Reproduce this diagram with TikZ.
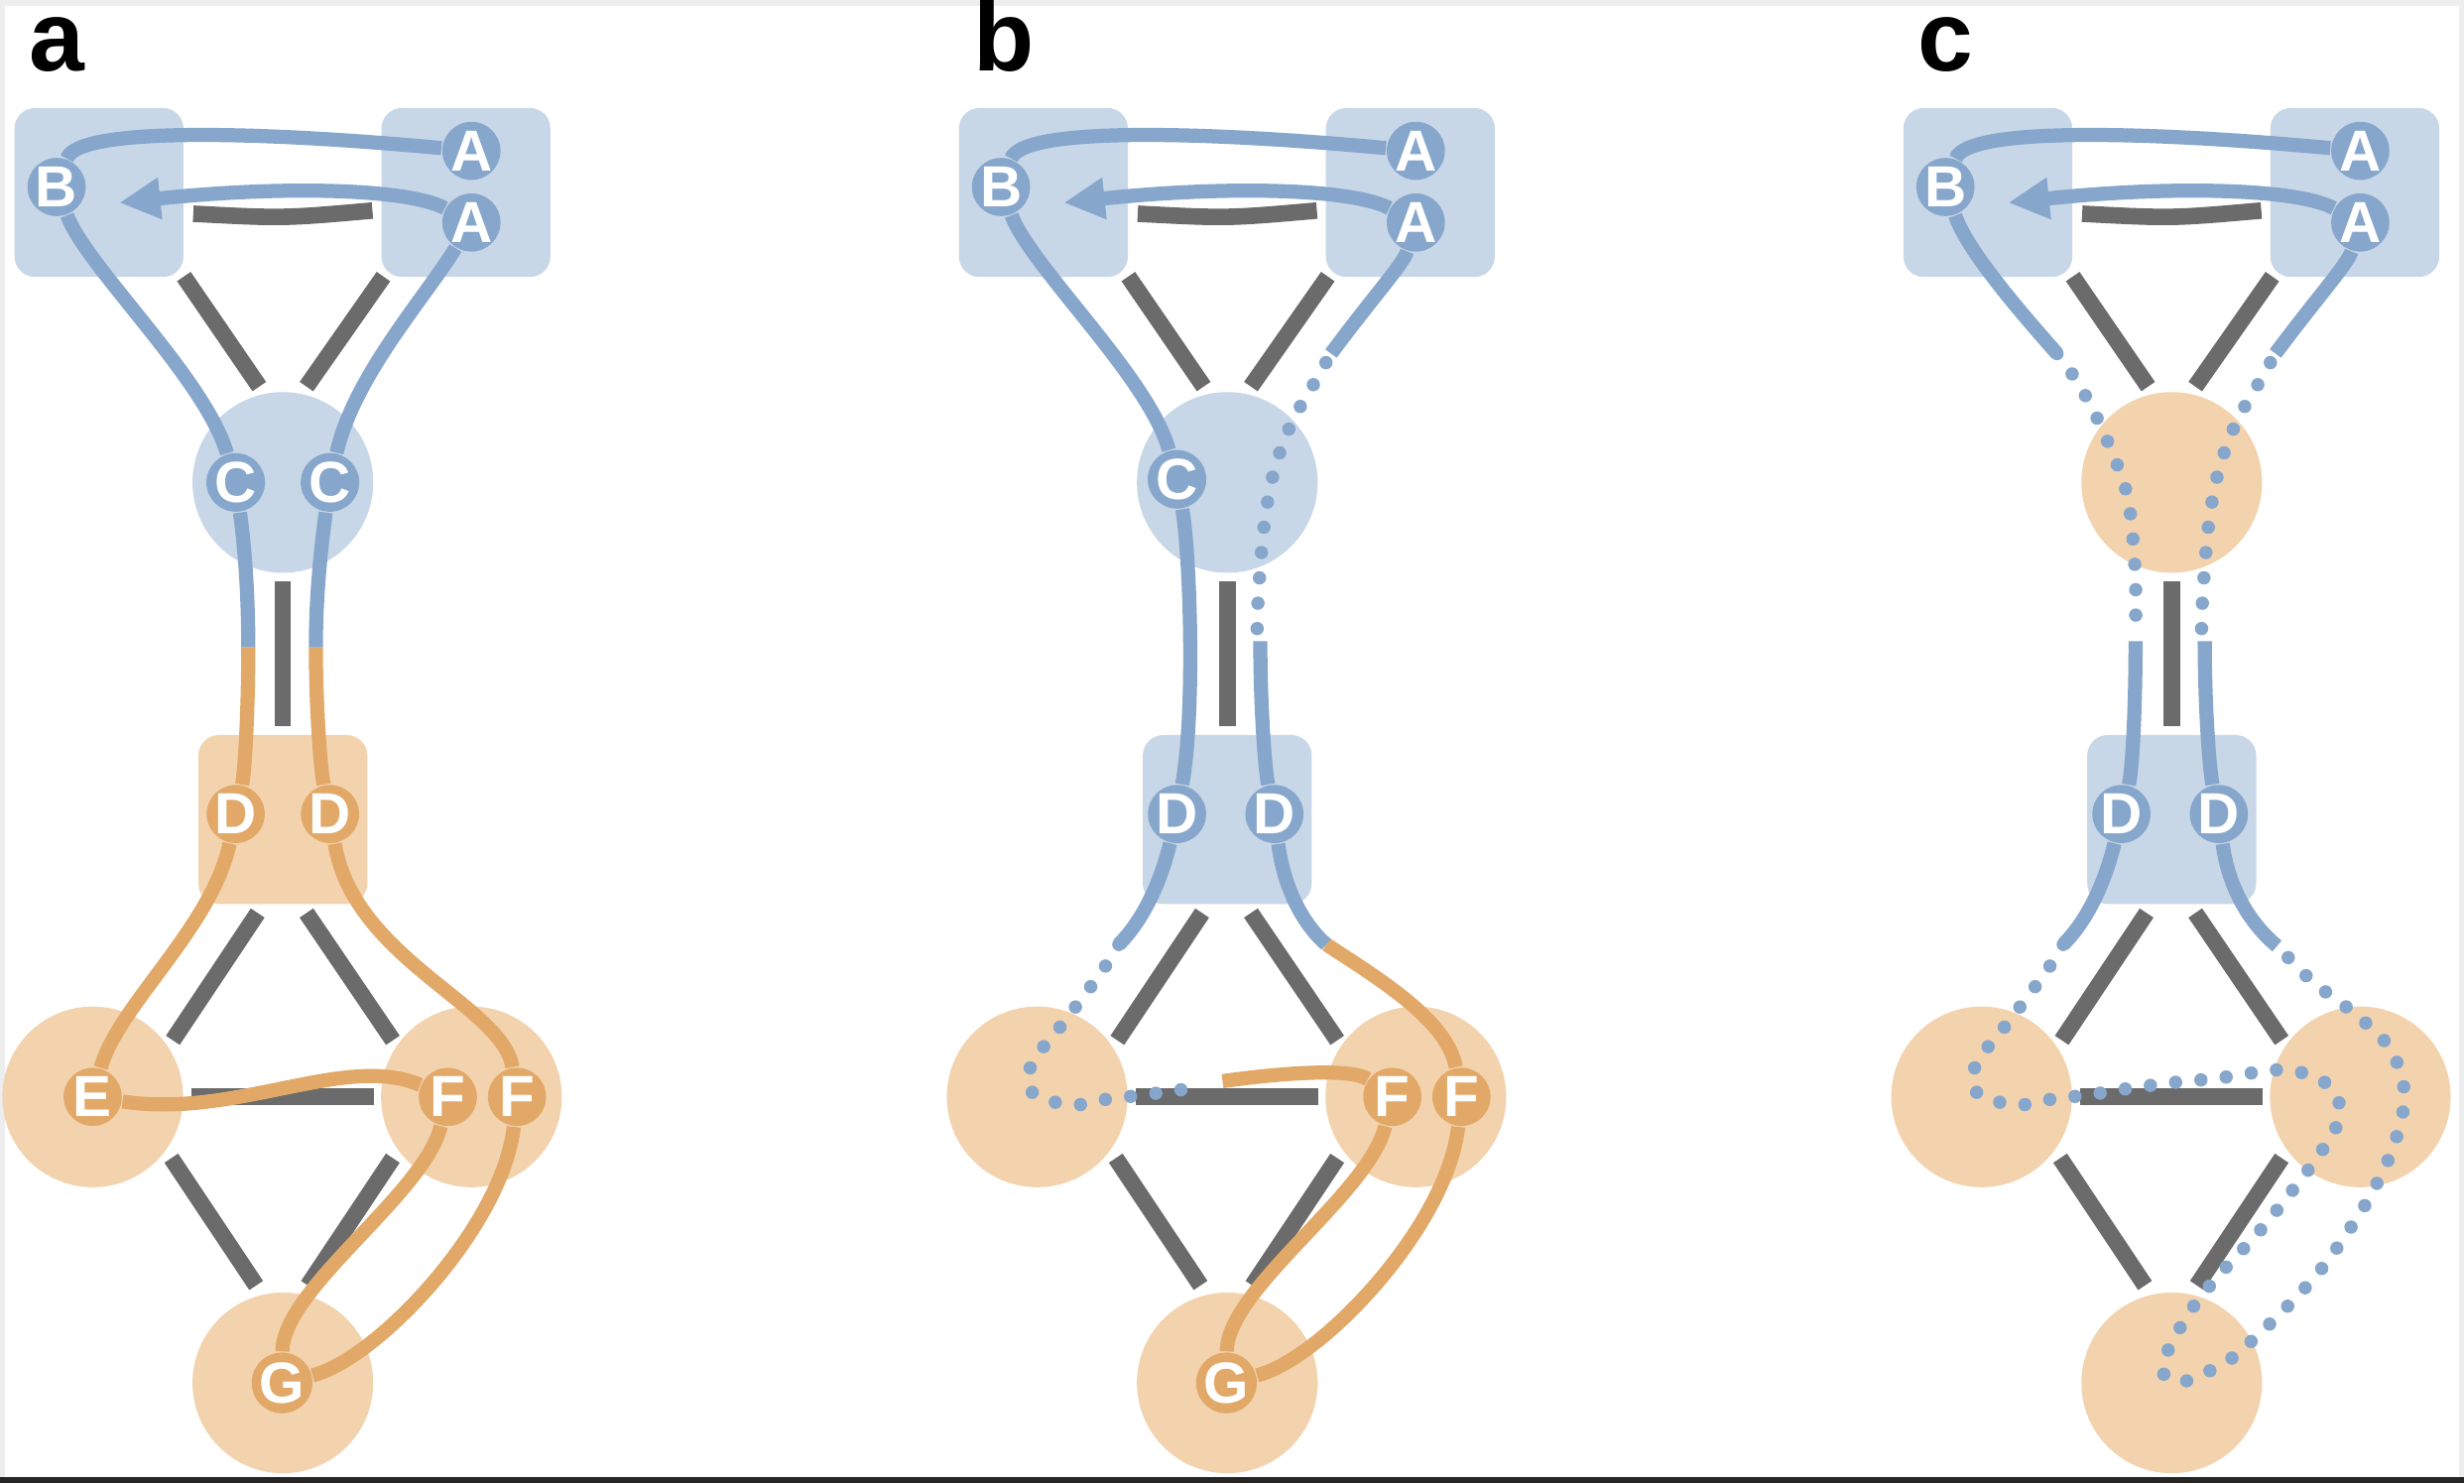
\documentclass[tikz,border=0pt]{standalone}
\usepackage{fontspec}
\setmainfont{Liberation Sans}
\usetikzlibrary{arrows.meta}
\definecolor{lb}{HTML}{86A6CB}
\definecolor{lo}{HTML}{E2A868}
\definecolor{rbl}{HTML}{C8D7E8}
\definecolor{rol}{HTML}{F3D3AE}
\definecolor{gr}{HTML}{6B6B6B}
\pgfdeclarelayer{back}\pgfdeclarelayer{regions}\pgfdeclarelayer{paths}
\pgfsetlayers{back,regions,paths,main}
\newcommand\grbars{%
 \draw[bar] (123,136) .. controls (180,139) .. (237,134);
 \draw[bar] (117,176) -- (165,246);
 \draw[bar] (244,176) -- (195,246);
 \draw[bar] (180,370) -- (180,462);
 \draw[bar] (164,581) -- (110,662);
 \draw[bar] (195,581) -- (250,662);
 \draw[bar] (122,698) -- (238,698);
 \draw[bar] (109,737) -- (163,818);
 \draw[bar] (250,737) -- (196,818);}
\begin{document}
\begin{tikzpicture}[x=0.1mm,y=-0.1mm,
 nd/.style={circle,inner sep=0pt,minimum size=3.7mm,font=\fontsize{10.5}{10.5}\selectfont\bfseries,text=white},
 nb/.style={nd,fill=lb}, no/.style={nd,fill=lo},
 rect/.style={rectangle,rounded corners=1.3mm,minimum size=10.75mm,inner sep=0pt},
 circ/.style={circle,minimum size=11.5mm,inner sep=0pt},
 bl/.style={draw=lb,line width=0.9mm},
 ol/.style={draw=lo,line width=0.9mm},
 dl/.style={draw=lb,line width=0.85mm,line cap=round,dash pattern=on 0pt off 4.6pt},
 bar/.style={draw=gr,line width=1.05mm},
 lab/.style={anchor=base west,font=\fontsize{18}{18}\selectfont\bfseries},
 arr/.style={-{Triangle[length=2.6mm,width=2.5mm]}}]
\useasboundingbox (0,0) rectangle (1568,944);
\begin{pgfonlayer}{back}
\fill[black!7] (0,0) rectangle (1568,944);
\fill[white] (3,4) rectangle (1565,940);
\fill[black!85] (0,940) rectangle (1568,944);
\end{pgfonlayer}
% ================= panel a
\node[lab] (la) at (6,45) {a};
\begin{pgfonlayer}{regions}
\node[rect,fill=rbl] (aRB) at (63,122.5) {};
\node[rect,fill=rbl] (aRA) at (296.5,122.5) {};
\node[circ,fill=rbl] (aRC) at (180,307) {};
\node[rect,fill=rol] (aRD) at (180,521.5) {};
\node[circ,fill=rol] (aRE) at (59,698) {};
\node[circ,fill=rol] (aRF) at (300,698) {};
\node[circ,fill=rol] (aRG) at (180,880) {};
\grbars
\end{pgfonlayer}
\node[nb] (aB) at (36,119) {B};
\node[nb] (aA1) at (300,96) {A};
\node[nb] (aA2) at (300,141.6) {A};
\node[nb] (aC1) at (150,307) {C};
\node[nb] (aC2) at (210,307) {C};
\node[no] (aD1) at (150,518) {D};
\node[no] (aD2) at (210,518) {D};
\node[no] (aE) at (59,698) {E};
\node[no] (aF1) at (285,698) {F};
\node[no] (aF2) at (329,698) {F};
\node[no] (aG) at (179.5,880) {G};
\coordinate (aT) at (76,129);
\coordinate (aS1) at (158,412);
\coordinate (aS2) at (201,412);
\begin{pgfonlayer}{paths}
\draw[bl] (aA1) .. controls (170,84) and (50,80) .. (aB);
\draw[bl] (aB) .. controls (55,170) and (130,240) .. (aC1);
\draw[bl] (aC1) .. controls (156,350) and (158,380) .. (aS1);
\draw[ol] (aS1) .. controls (158,450) and (156,490) .. (aD1);
\draw[ol] (aD1) .. controls (135,590) and (75,640) .. (aE);
\draw[ol] (aE) .. controls (150,712) and (220,670) .. (aF1);
\draw[ol] (aF1) .. controls (270,760) and (180,820) .. (aG);
\draw[ol] (aG) .. controls (240,865) and (320,780) .. (aF2);
\draw[ol] (aF2) .. controls (320,640) and (225,610) .. (aD2);
\draw[ol] (aD2) .. controls (204,490) and (201,450) .. (aS2);
\draw[bl] (aS2) .. controls (201,380) and (204,350) .. (aC2);
\draw[bl] (aC2) .. controls (225,240) and (270,190) .. (aA2);
\draw[bl,arr] (aA2) .. controls (260,120) and (180,118) .. (aT);
\end{pgfonlayer}
% ================= panel b
\begin{scope}[shift={(601,0)}]
\node[lab] (lb) at (6,45) {b};
\begin{pgfonlayer}{regions}
\node[rect,fill=rbl] (bRB) at (63,122.5) {};
\node[rect,fill=rbl] (bRA) at (296.5,122.5) {};
\node[circ,fill=rbl] (bRC) at (180,307) {};
\node[rect,fill=rbl] (bRD) at (180,521.5) {};
\node[circ,fill=rol] (bRE) at (59,698) {};
\node[circ,fill=rol] (bRF) at (300,698) {};
\node[circ,fill=rol] (bRG) at (180,880) {};
\grbars
\end{pgfonlayer}
\node[nb] (bB) at (36,119) {B};
\node[nb] (bA1) at (300,96) {A};
\node[nb] (bA2) at (300,141.6) {A};
\node[nb] (bC1) at (148,305) {C};
\node[nb] (bD1) at (148,518) {D};
\node[nb] (bD2) at (210,518) {D};
\node[no] (bF1) at (285,698) {F};
\node[no] (bF2) at (329,698) {F};
\node[no] (bG) at (179.5,880) {G};
\coordinate (bT) at (76,129);
\coordinate (bP1) at (111,601);
\coordinate (bP2) at (177,688);
\coordinate (bP3) at (243,601);
\coordinate (bP4) at (201,408);
\coordinate (bP5) at (246,225);
\begin{pgfonlayer}{paths}
\draw[bl] (bA1) .. controls (170,84) and (50,80) .. (bB);
\draw[bl] (bB) .. controls (55,170) and (130,240) .. (bC1);
\draw[bl] (bC1) .. controls (156,350) and (160,450) .. (bD1);
\draw[bl] (bD1) .. controls (138,560) and (127,585) .. (bP1);
\draw[dl] plot[smooth,tension=0.6] coordinates {(111,601) (103,614) (93,628) (84,640) (74,653) (64,665) (55,678) (55,694) (69,701) (85,703) (100,700) (116,698) (132,696) (148,694) (164,690)};
\draw[ol] (bP2) .. controls (220,682) and (260,680) .. (bF1);
\draw[ol] (bF1) .. controls (270,760) and (180,820) .. (bG);
\draw[ol] (bG) .. controls (240,865) and (320,780) .. (bF2);
\draw[ol] (bF2) .. controls (320,650) and (280,625) .. (bP3);
\draw[bl] (bP3) .. controls (228,588) and (216,565) .. (bD2);
\draw[bl] (bD2) .. controls (204,490) and (201,450) .. (bP4);
\draw[dl] plot[smooth,tension=0.6] coordinates {(199,400) (199,393) (201,361) (204,330) (210,299) (221,269) (237,241) (246,225)};
\draw[bl] (bP5) .. controls (272,190) and (292,168) .. (bA2);
\draw[bl,arr] (bA2) .. controls (260,120) and (180,118) .. (bT);
\end{pgfonlayer}
\end{scope}
% ================= panel c
\begin{scope}[shift={(1202,0)}]
\node[lab] (lc) at (6,45) {c};
\begin{pgfonlayer}{regions}
\node[rect,fill=rbl] (cRB) at (63,122.5) {};
\node[rect,fill=rbl] (cRA) at (296.5,122.5) {};
\node[circ,fill=rol] (cRC) at (180,307) {};
\node[rect,fill=rbl] (cRD) at (180,521.5) {};
\node[circ,fill=rol] (cRE) at (59,698) {};
\node[circ,fill=rol] (cRF) at (300,698) {};
\node[circ,fill=rol] (cRG) at (180,880) {};
\grbars
\end{pgfonlayer}
\node[nb] (cB) at (36,119) {B};
\node[nb] (cA1) at (300,96) {A};
\node[nb] (cA2) at (300,141.6) {A};
\node[nb] (cD1) at (148,518) {D};
\node[nb] (cD2) at (210,518) {D};
\coordinate (cT) at (76,129);
\coordinate (cQ1) at (107,225);
\coordinate (cQ2) at (157,408);
\coordinate (cP1) at (111,601);
\coordinate (cP3) at (247,602);
\coordinate (cP4) at (201,408);
\coordinate (cP5) at (246,225);
\begin{pgfonlayer}{paths}
\draw[bl] (cA1) .. controls (170,84) and (50,80) .. (cB);
\draw[bl] (cB) .. controls (50,160) and (85,200) .. (cQ1);
\draw[dl] plot[smooth,tension=0.6] coordinates {(107,225) (116,237) (132,265) (150,309) (155,340) (157,372) (157,400)};
\draw[bl] (cQ2) .. controls (157,450) and (155,490) .. (cD1);
\draw[bl] (cD1) .. controls (138,560) and (127,585) .. (cP1);
\draw[dl] plot[smooth,tension=0.6] coordinates {(111,601) (103,614) (93,628) (84,640) (74,653) (64,665) (55,678) (55,694) (69,701) (85,703) (100,700) (116,698) (132,696) (150,693) (180,689) (210,686) (244,681) (260,682) (275,687) (286,700) (285,716) (277,730) (268,743) (238,781) (206,816) (187,842) (174,871) (188,879) (217,865) (229,855) (252,833) (274,809) (292,784) (308,758) (322,727) (328,695) (318,666) (295,644) (270,625) (251,606)};
\draw[bl] (cP3) .. controls (230,588) and (216,565) .. (cD2);
\draw[bl] (cD2) .. controls (204,490) and (201,450) .. (cP4);
\draw[dl] plot[smooth,tension=0.6] coordinates {(199,400) (199,393) (201,361) (204,330) (210,299) (221,269) (237,241) (246,225)};
\draw[bl] (cP5) .. controls (272,190) and (292,168) .. (cA2);
\draw[bl,arr] (cA2) .. controls (260,120) and (180,118) .. (cT);
\end{pgfonlayer}
\end{scope}
\end{tikzpicture}
\end{document}
